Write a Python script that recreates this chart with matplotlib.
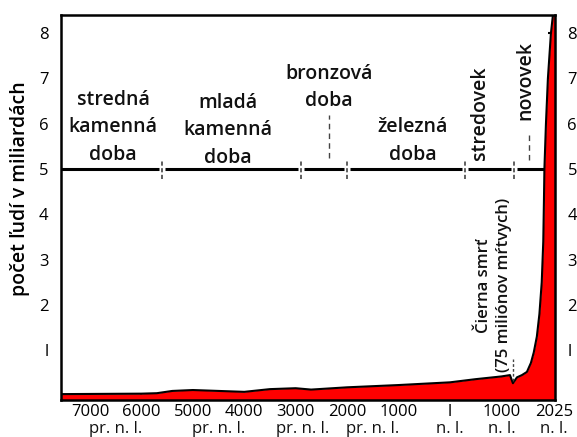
import matplotlib
matplotlib.use("Agg")
import matplotlib.pyplot as plt
import matplotlib.transforms as mtransforms

plt.rcParams['font.family'] = ['Open Sans', 'DejaVu Sans']

# ---- data (years: negative = pr. n. l.) ----
years = [-7564, -6000, -5700, -5400, -5000, -4500, -4000, -3500, -3000, -2700,
         -2000, -1000, 0, 500, 1000, 1167, 1225, 1303, 1400, 1497, 1575, 1630,
         1690, 1740, 1785, 1815, 1828, 1837, 1867, 1905, 1964, 2003, 2043]
population = [0.03, 0.04, 0.05, 0.10, 0.12, 0.10, 0.08, 0.14, 0.16, 0.13,
              0.18, 0.23, 0.29, 0.36, 0.42, 0.45, 0.27, 0.40, 0.45, 0.52, 0.72, 0.95,
              1.3, 1.8, 2.5, 3.4, 4.3, 5.0, 6.0, 7.0, 8.0, 8.4, 8.5]

xtick_pos = [-7000, -6000, -5000, -4000, -3000, -2000, -1000, 1, 1000, 2025]
xtick_lab = ["7000", "6000", "5000", "4000", "3000", "2000", "1000", "l", "1000", "2025"]
era_note_pos = [-6500, -4500, -2860, -1500, 0, 1000, 2025]
era_note_lab = ["pr. n. l.", "pr. n. l.", "pr. n. l.", "pr. n. l.", "n. l.", "n. l.", "n. l."]
ytick_pos = [1, 2, 3, 4, 5, 6, 7, 8]
ytick_lab = ["l", "2", "3", "4", "5", "6", "7", "8"]

period_sep = [-5600, -2900, -2000, 300, 1250]
period_names = ["stredná\nkamenná\ndoba", "mladá\nkamenná\ndoba", "bronzová\ndoba",
                "železná\ndoba", "stredovek", "novovek"]
period_x = [-6553, -4317, -2353, -720, 583, 1458]
period_y = [5.92, 5.86, 6.8, 5.62, 6.23, 6.96]
period_rot = [0, 0, 0, 0, 90, 90]
line_level = 5.0

fig = plt.figure(figsize=(5.77, 4.37), dpi=100)
ax = fig.add_axes([61/577, 1-400/437, (555-61)/577, (400-15)/437])
ax.set_xlim(-7564, 2043)
ax.set_ylim(-0.1, 8.4)

ax.fill_between(years, population, -0.1, color="#ff0000", zorder=3, linewidth=0)
ax.plot(years, population, color="black", lw=1.5, zorder=4)

# horizontal period line with small gaps at separators
gap = 60
edges = [-7564] + period_sep + [1850]
for i in range(len(edges) - 1):
    a = edges[i] + (gap if i > 0 else 0)
    b = edges[i + 1] - (gap if i + 1 < len(edges) - 1 else 0)
    ax.plot([a, b], [line_level, line_level], color="black", lw=2.2, zorder=2,
            solid_capstyle="butt")
for s in period_sep:
    ax.plot([s, s], [line_level - 0.22, line_level + 0.22], color="#444444",
            lw=1.2, ls=(0, (2.5, 1.5)), zorder=2)

# dashed pointer lines
ax.plot([-2353, -2353], [5.25, 6.2], color="#444444", lw=1.0, ls=(0, (4, 3)), zorder=2)
ax.plot([1536, 1536], [5.2, 5.85], color="#444444", lw=1.0, ls=(0, (4, 3)), zorder=2)
ax.plot([1225, 1225], [0.33, 0.8], color="#444444", lw=1.0, ls=(0, (2, 1.5)), zorder=5)

for name, x, y, r in zip(period_names, period_x, period_y, period_rot):
    ax.text(x, y, name, ha="center", va="center", rotation=r, fontsize=14,
            fontweight="semibold", color="#111111", linespacing=1.5, zorder=6)

ax.text(860, 2.43, "Čierna smrť\n(75 miliónov mŕtvych)", rotation=90,
        ha="center", va="center", fontsize=12, fontweight="semibold",
        color="#111111", linespacing=1.3, zorder=6)

ax.set_ylabel("počet ľudí v miliardách", fontsize=14, fontweight="semibold")
ax.yaxis.set_label_coords(-0.062, 0.55)

ax.set_xticks(xtick_pos)
ax.set_xticklabels(xtick_lab, fontsize=12)
ax.set_xticks([1750], minor=True)
ax.tick_params(axis="x", which="both", direction="in", length=4, width=1.2,
               pad=3, colors="black", top=False)
ax.set_yticks(ytick_pos)
ax.set_yticklabels(ytick_lab, fontsize=12)
ax.tick_params(axis="y", left=True, right=True, labelleft=True, labelright=True,
               direction="in", length=0, pad=9)
for t in ax.yaxis.get_major_ticks():
    t.tick2line.set_markersize(5)
    t.tick2line.set_markeredgewidth(1.5)
    t.tick2line.set_zorder(7)
for t in ax.xaxis.get_major_ticks() + ax.xaxis.get_minor_ticks():
    t.tick1line.set_zorder(7)
ax.set_axisbelow(False)

trans = mtransforms.blended_transform_factory(ax.transData, ax.transAxes)
for x, lab in zip(era_note_pos, era_note_lab):
    ax.text(x, -0.054, lab, transform=trans, ha="center", va="top", fontsize=12,
            color="#111111")

for sp in ax.spines.values():
    sp.set_linewidth(1.8)
    sp.set_color("black")
    sp.set_zorder(8)

fig.savefig("out.png", dpi=100)
